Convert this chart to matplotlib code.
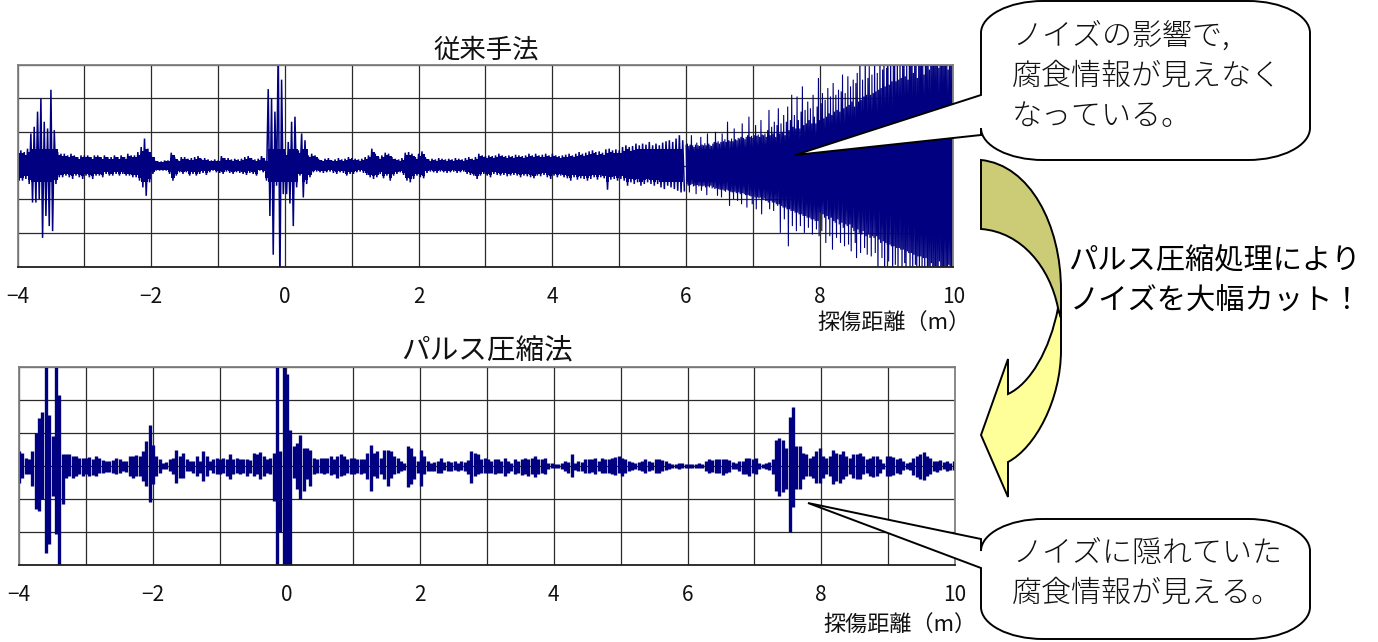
import numpy as np
import matplotlib
matplotlib.use("Agg")
import matplotlib.pyplot as plt
from matplotlib.path import Path
from matplotlib.patches import PathPatch

plt.rcParams['font.family'] = ['Noto Sans CJK JP', 'DejaVu Sans']

W, H = 1378, 642
NAVY = "#000080"

# 従来手法: peaks, one row is 1 m from -4 to 6
top_up_a = [
    .45,.45,.40,.50,.95,1.15,1.60,2.00,1.30,1.10,2.25,1.05,.40,.35,.35,.30,.35,.30,.25,.30,
    .30,.30,.25,.30,.30,.25,.30,.25,.25,.30,.25,.30,.25,.35,.30,.30,.40,.55,.80,.50,
    .30,.15,.12,.12,.15,.15,.38,.25,.15,.25,.25,.20,.22,.25,.28,.20,.22,.18,.15,.18,
    .15,.28,.22,.22,.18,.20,.18,.20,.25,.28,.22,.18,.20,.28,.15,2.27,2.00,1.60,3.60,2.55,
    .40,.70,1.30,1.45,.45,.95,.75,.30,.35,.30,.20,.15,.20,.22,.15,.18,.22,.18,.20,.25,
    .22,.20,.18,.20,.25,.30,.50,.35,.25,.30,.38,.35,.25,.20,.18,.22,.38,.40,.35,.25,
    .35,.42,.25,.18,.20,.18,.22,.20,.18,.20,.18,.22,.20,.18,.22,.25,.20,.25,.35,.30,
    .28,.30,.28,.30,.35,.30,.28,.30,.28,.32,.30,.28,.30,.35,.30,.35,.30,.32,.35,.30,
    .35,.30,.28,.30,.32,.35,.30,.35,.40,.35,.38,.42,.45,.40,.42,.38,.48,.50,.45,.48,
    .45,.55,.60,.55,.58,.65,.60,.65,.62,.70,.60,.65,.60,.68,.72,.75,.70,.80,.90,.75,
]
top_low_a = [
    -.45,-.45,-.40,-.55,-1.10,-1.10,-1.00,-2.15,-1.50,-1.80,-1.95,-.55,-.35,-.35,-.30,-.35,-.40,-.30,-.35,-.40,
    -.30,-.35,-.40,-.30,-.30,-.35,-.25,-.30,-.30,-.25,-.30,-.25,-.30,-.30,-.35,-.35,-.45,-.65,-.90,-.50,
    -.25,-.15,-.15,-.15,-.15,-.25,-.45,-.30,-.20,-.25,-.20,-.30,-.25,-.30,-.25,-.22,-.28,-.20,-.15,-.20,
    -.22,-.25,-.18,-.22,-.25,-.20,-.22,-.25,-.28,-.22,-.25,-.30,-.15,-.20,-.45,-1.50,-2.65,-.60,-3.60,-.85,
    -.85,-1.13,-1.80,-.65,-.30,-.95,-.55,-.35,-.20,-.18,-.20,-.22,-.20,-.18,-.22,-.25,-.20,-.22,-.30,-.25,
    -.25,-.20,-.18,-.22,-.28,-.35,-.40,-.35,-.25,-.38,-.30,-.45,-.30,-.25,-.20,-.28,-.45,-.50,-.40,-.30,
    -.35,-.38,-.22,-.18,-.20,-.22,-.18,-.20,-.22,-.20,-.18,-.22,-.20,-.18,-.25,-.28,-.30,-.40,-.30,-.25,
    -.30,-.35,-.25,-.28,-.30,-.28,-.32,-.30,-.28,-.30,-.35,-.30,-.32,-.35,-.38,-.30,-.32,-.28,-.35,-.40,
    -.30,-.35,-.30,-.35,-.38,-.45,-.35,-.42,-.38,-.40,-.45,-.40,-.35,-.42,-.35,-.38,-.72,-.42,-.40,-.45,
    -.40,-.45,-.60,-.50,-.55,-.50,-.60,-.55,-.50,-.55,-.60,-.55,-.65,-.70,-.60,-.65,-.70,-.75,-.80,-.75,
]
# finer part from 6 to 10, one row is 0.4 m
top_up_b = [
    .60,.65,.58,.62,.90,.60,.55,.62,.68,.60,.58,.85,.62,.60,.66,.60,.95,.65,.60,.58,
    .65,.70,1.00,.68,.72,.65,.70,.95,.72,.78,.70,1.30,.75,.72,.80,.72,1.10,.78,.75,.82,
    .80,.85,1.25,.82,.78,.85,.90,1.45,.85,.88,.82,.90,1.20,.88,.92,.85,1.35,.92,.90,.95,
    .85,1.05,1.65,.90,1.15,.95,1.30,.85,1.20,1.70,.95,1.25,1.00,1.50,.90,1.30,1.75,1.05,1.35,2.10,
    1.15,1.50,1.10,2.05,1.35,1.10,1.60,2.35,1.20,1.65,1.25,1.90,1.35,1.70,1.25,2.10,1.45,1.25,1.75,2.60,
    1.35,1.85,2.15,1.40,1.95,1.45,2.30,1.55,2.05,1.50,2.45,1.60,2.10,1.65,2.25,1.60,2.20,2.70,1.70,2.15,
    1.75,2.65,1.80,2.35,1.90,2.55,1.75,2.45,2.75,1.90,3.60,1.95,2.55,2.05,3.60,2.10,2.60,2.95,2.10,2.70,
    2.15,3.60,2.20,2.75,2.25,3.60,2.30,2.85,3.60,2.35,2.90,2.95,2.40,3.60,2.50,3.00,3.60,2.50,3.60,2.55,
    3.60,2.60,3.60,3.60,2.65,3.60,2.55,3.60,3.60,3.60,2.75,3.60,3.60,2.60,3.60,3.60,3.60,3.60,2.70,3.60,
    3.60,3.60,2.85,3.60,3.60,3.60,3.60,3.60,3.60,2.90,3.60,3.60,3.60,3.60,3.60,3.60,2.85,3.60,3.60,3.60,
]
top_low_b = [
    -.55,-.60,-.80,-.58,-.55,-.62,-.60,-.85,-.58,-.62,-.60,-.75,-.62,-.60,-.65,-.88,-.62,-.65,-.60,-.68,
    -.65,-.70,-.68,-.90,-.70,-.72,-.95,-.72,-.75,-.78,-.72,-.75,-1.20,-.78,-.80,-1.00,-.78,-.82,-1.05,-.80,
    -.85,-1.15,-.82,-.85,-.88,-1.25,-.88,-.90,-.92,-1.15,-.90,-.95,-1.30,-.95,-.98,-.95,-1.45,-1.00,-.98,-1.05,
    -1.05,-1.10,-1.30,-1.05,-1.10,-1.35,-1.10,-1.15,-1.20,-1.15,-2.00,-1.20,-1.25,-1.60,-1.25,-1.30,-2.40,-1.30,-1.35,-1.80,
    -1.35,-1.40,-1.95,-1.40,-1.45,-1.80,-1.45,-1.50,-2.00,-1.50,-1.55,-1.85,-1.55,-1.60,-2.05,-1.60,-1.65,-1.90,-1.65,-2.10,
    -1.40,-1.95,-1.45,-1.55,-2.30,-1.50,-1.60,-2.10,-1.55,-2.50,-1.65,-1.70,-2.15,-1.60,-1.75,-2.30,-1.70,-1.85,-2.40,-1.75,
    -1.80,-2.35,-1.75,-2.55,-1.85,-1.95,-2.30,-2.75,-1.90,-2.00,-2.60,-2.05,-1.95,-2.45,-2.10,-2.65,-2.05,-2.15,-2.70,-2.10,
    -2.15,-2.60,-2.10,-3.60,-2.20,-2.30,-2.75,-2.25,-3.60,-2.30,-2.35,-2.85,-2.35,-2.40,-3.60,-2.40,-2.95,-2.45,-3.60,-2.45,
    -2.50,-3.60,-2.50,-2.90,-3.60,-2.55,-2.60,-3.60,-2.60,-3.60,-2.65,-2.95,-3.60,-2.70,-3.60,-2.70,-3.60,-2.75,-3.60,-2.75,
    -3.60,-3.00,-3.60,-2.90,-3.60,-3.60,-3.00,-3.60,-3.60,-2.85,-3.60,-3.60,-3.60,-3.00,-3.60,-3.60,-2.95,-3.60,-3.60,-3.60,
]

# パルス圧縮法: one row is 1 m from -4 to 10
bot_up = [
    .45,.40,.25,.20,.45,1.00,1.45,1.65,3.20,1.55,.90,3.20,2.15,.35,.35,.35,.30,.30,.25,.25,
    .25,.28,.20,.30,.25,.18,.15,.15,.18,.25,.22,.15,.15,.30,.30,.32,.30,.45,.75,1.25,
    .65,.30,.20,.10,.12,.20,.25,.50,.30,.40,.20,.15,.15,.30,.15,.45,.30,.15,.20,.25,
    .20,.25,.20,.35,.22,.25,.20,.20,.22,.18,.40,.35,.42,.30,.20,.25,.40,3.20,.45,3.20,
    2.80,1.10,.60,.70,.95,.55,.55,.50,.25,.20,.25,.25,.25,.30,.22,.30,.35,.30,.22,.25,
    .25,.22,.22,.20,.40,.65,.40,.45,.25,.50,.50,.45,.30,.25,.15,.10,.60,.55,.30,.15,
    .50,.30,.15,.10,.12,.15,.25,.12,.15,.12,.15,.10,.15,.12,.18,.45,.40,.35,.20,.25,
    .20,.15,.22,.20,.15,.25,.15,.10,.20,.15,.22,.25,.20,.25,.30,.20,.22,.25,.10,.08,
    .05,.05,.08,.15,.12,.35,.10,.15,.12,.22,.22,.22,.25,.15,.25,.20,.22,.25,.28,.30,
    .25,.22,.15,.12,.10,.12,.15,.20,.15,.12,.22,.20,.18,.15,.10,.05,.05,.10,.08,.05,
    .05,.05,.05,.10,.05,.15,.20,.18,.20,.22,.22,.20,.18,.12,.08,.15,.15,.25,.25,.20,
    .25,.10,.05,.08,.12,.20,.80,.85,.80,.55,1.50,1.80,.60,.60,.40,.35,.25,.30,.45,.55,
    .30,.25,.30,.50,.40,.35,.45,.30,.25,.35,.35,.38,.30,.20,.25,.30,.30,.20,.10,.30,
    .30,.28,.20,.25,.15,.08,.12,.25,.30,.35,.42,.30,.25,.15,.15,.18,.12,.15,.10,.15,
]
bot_low = [
    -.50,-.35,-.25,-.25,-.60,-1.30,-1.35,-1.00,-2.65,-2.35,-.90,-2.05,-3.20,-1.15,-.35,-.30,-.35,-.30,-.25,-.30,
    -.25,-.30,-.28,-.30,-.22,-.20,-.18,-.18,-.20,-.25,-.20,-.15,-.18,-.30,-.35,-.30,-.30,-.45,-.60,-1.10,
    -.55,-.30,-.20,-.08,-.10,-.15,-.25,-.50,-.35,-.35,-.15,-.15,-.20,-.30,-.20,-.45,-.30,-.12,-.20,-.25,
    -.25,-.20,-.30,-.40,-.25,-.20,-.25,-.20,-.30,-.22,-.30,-.25,-.40,-.30,-.20,-.25,-1.05,-3.20,-2.00,-3.20,
    -3.20,-3.20,-.35,-.70,-1.00,-.75,-.40,-.60,-.25,-.20,-.22,-.25,-.20,-.28,-.25,-.35,-.30,-.28,-.22,-.25,
    -.25,-.22,-.25,-.20,-.40,-.75,-.30,-.35,-.25,-.40,-.60,-.35,-.25,-.20,-.15,-.12,-.65,-.55,-.40,-.20,
    -.60,-.25,-.15,-.15,-.15,-.20,-.22,-.12,-.15,-.15,-.12,-.15,-.12,-.15,-.25,-.50,-.30,-.25,-.20,-.20,
    -.22,-.20,-.25,-.22,-.20,-.30,-.20,-.15,-.25,-.22,-.28,-.25,-.30,-.25,-.32,-.25,-.20,-.25,-.10,-.06,
    -.05,-.05,-.08,-.15,-.20,-.33,-.12,-.15,-.15,-.20,-.22,-.18,-.25,-.15,-.22,-.20,-.20,-.25,-.28,-.22,
    -.30,-.22,-.15,-.12,-.10,-.12,-.15,-.22,-.15,-.12,-.22,-.20,-.15,-.12,-.08,-.05,-.05,-.08,-.05,-.05,
    -.05,-.05,-.05,-.05,-.05,-.15,-.20,-.18,-.20,-.22,-.28,-.20,-.18,-.10,-.08,-.15,-.25,-.25,-.30,-.20,
    -.25,-.10,-.05,-.08,-.12,-.25,-.75,-.90,-.80,-.70,-2.00,-1.25,-.70,-.70,-.40,-.30,-.30,-.35,-.50,-.50,
    -.35,-.25,-.30,-.55,-.45,-.50,-.40,-.30,-.25,-.35,-.40,-.40,-.25,-.20,-.30,-.32,-.30,-.20,-.10,-.30,
    -.30,-.28,-.20,-.25,-.12,-.08,-.12,-.28,-.32,-.38,-.42,-.30,-.25,-.15,-.18,-.12,-.10,-.15,-.12,-.12,
]

x_ticks = list(range(-4, 11))
x_labels = ["−4", "", "−2", "", "0", "", "2", "", "4", "", "6", "", "8", "", "10"]
y_ticks = [-3, -2, -1, 0, 1, 2, 3]


def add_panel(fig, left, right, top, bottom):
    ax = fig.add_axes([left / W, 1 - bottom / H, (right - left) / W, (bottom - top) / H])
    ax.set_xlim(-4, 10)
    ax.set_ylim(-3, 3)
    ax.set_xticks(x_ticks)
    ax.set_xticklabels(x_labels, fontsize=15, color="#111111")
    ax.set_yticks(y_ticks)
    ax.set_yticklabels([])
    ax.tick_params(length=0, pad=14)
    ax.grid(True, color="#2a2a2a", lw=0.9)
    ax.set_axisbelow(True)
    for s in ax.spines.values():
        s.set_color("#808080")
        s.set_linewidth(1.3)
    ax.spines["bottom"].set_color("#202020")
    return ax


def wave(ax, start, stop, up, low, lw):
    # zigzag between upper and lower peak of each sample, solid band in the middle
    n = min(len(up), len(low))
    x = np.linspace(start, stop, n, endpoint=False)
    dx = (stop - start) / n
    up = np.array(up[:n])
    low = np.array(low[:n])
    xs = np.column_stack([x, x + dx / 2]).ravel()
    ys = np.column_stack([up, low]).ravel()
    ax.plot(xs, ys, color=NAVY, lw=lw, solid_joinstyle="bevel")
    ax.fill_between(x, np.minimum(up * 0.8, 0.5), np.maximum(low * 0.8, -0.5),
                    color=NAVY, lw=0, step="post")


def blocks(ax, start, stop, up, low, lw):
    # the lower trace looks chunky, so one bar per sample
    n = min(len(up), len(low))
    x = np.linspace(start, stop, n, endpoint=False)
    ax.vlines(x, low[:n], up[:n], color=NAVY, lw=lw)


fig = plt.figure(figsize=(W / 100, H / 100), dpi=100)

ax1 = add_panel(fig, 17.5, 953.5, 64.5, 266.5)
wave(ax1, -4, 6, top_up_a, top_low_a, 1.1)
wave(ax1, 6, 10, top_up_b, top_low_b, 0.8)

ax2 = add_panel(fig, 19, 955, 367, 565)
blocks(ax2, -4, 10.03, bot_up, bot_low, 2.4)

# callouts, arrow and text are placed in pixels over the whole figure
ov = fig.add_axes([0, 0, 1, 1], zorder=5)
ov.set_xlim(0, W)
ov.set_ylim(H, 0)
ov.axis("off")
ov.patch.set_alpha(0)


def bubble(l, r, t, b, tail):
    rx, ry = 62, 32
    k = 0.55
    v = [(l + rx, t), (r - rx, t),
         (r - rx + k * rx, t), (r, t + ry - k * ry), (r, t + ry),
         (r, b - ry),
         (r, b - ry + k * ry), (r - rx + k * rx, b), (r - rx, b),
         (l + rx, b),
         (l + rx - k * rx, b), (l, b - ry + k * ry), (l, b - ry)]
    c = [Path.MOVETO, Path.LINETO, Path.CURVE4, Path.CURVE4, Path.CURVE4,
         Path.LINETO, Path.CURVE4, Path.CURVE4, Path.CURVE4,
         Path.LINETO, Path.CURVE4, Path.CURVE4, Path.CURVE4]
    for p in tail:
        v.append(p)
        c.append(Path.LINETO)
    v += [(l, t + ry), (l, t + ry - k * ry), (l + rx - k * rx, t), (l + rx, t)]
    c += [Path.LINETO, Path.CURVE4, Path.CURVE4, Path.CURVE4]
    ov.add_patch(PathPatch(Path(v, c), fc="white", ec="black", lw=1.4, joinstyle="miter"))


bubble(981, 1310, 1, 160, [(981, 135), (795, 155), (981, 95)])
bubble(981, 1310, 519, 639, [(981, 568), (808, 503), (981, 539)])

# curved arrow, olive upper part then yellow head
olive = Path([(981, 160), (1030, 165), (1061, 225), (1061, 290), (1061, 318), (1058, 308),
              (1050, 268), (1022, 232), (981, 229), (981, 160)],
             [Path.MOVETO, Path.CURVE4, Path.CURVE4, Path.CURVE4, Path.LINETO, Path.LINETO,
              Path.CURVE4, Path.CURVE4, Path.CURVE4, Path.CLOSEPOLY])
yellow = Path([(1058, 308), (1061, 318), (1061, 350), (1061, 400), (1035, 448), (1008, 462),
               (1008, 497), (981, 435), (1008, 359), (1008, 394),
               (1030, 384), (1050, 350), (1058, 308)],
              [Path.MOVETO, Path.LINETO, Path.LINETO, Path.CURVE4, Path.CURVE4, Path.CURVE4,
               Path.LINETO, Path.LINETO, Path.LINETO, Path.LINETO,
               Path.CURVE4, Path.CURVE4, Path.CURVE4])
ov.add_patch(PathPatch(yellow, fc="#FFFF99", ec="black", lw=1.4, joinstyle="miter"))
ov.add_patch(PathPatch(olive, fc="#CCCC77", ec="black", lw=1.4, joinstyle="miter"))

ov.text(486, 50, "従来手法", fontsize=19, ha="center", va="center", color="#111111")
ov.text(487, 350, "パルス圧縮法", fontsize=20.6, ha="center", va="center", color="#111111")
ov.text(971, 324, "探傷距離（m）", fontsize=15.9, ha="right", va="center", color="#111111")
ov.text(977, 626, "探傷距離（m）", fontsize=15.9, ha="right", va="center", color="#111111")

for y, s in zip([36, 76, 116], ["ノイズの影響で,", "腐食情報が見えなく", "なっている。"]):
    ov.text(1012, y, s, fontsize=21.6, ha="left", va="center", color="#111111", fontweight="light")
for y, s in zip([553, 593], ["ノイズに隠れていた", "腐食情報が見える。"]):
    ov.text(1012, y, s, fontsize=21.6, ha="left", va="center", color="#111111", fontweight="light")
ov.text(1068, 261, "パルス圧縮処理により", fontsize=21.1, ha="left", va="center", color="black")
ov.text(1070, 302, "ノイズを大幅カット！", fontsize=21.1, ha="left", va="center", color="black")

fig.savefig("out.png", dpi=100)
